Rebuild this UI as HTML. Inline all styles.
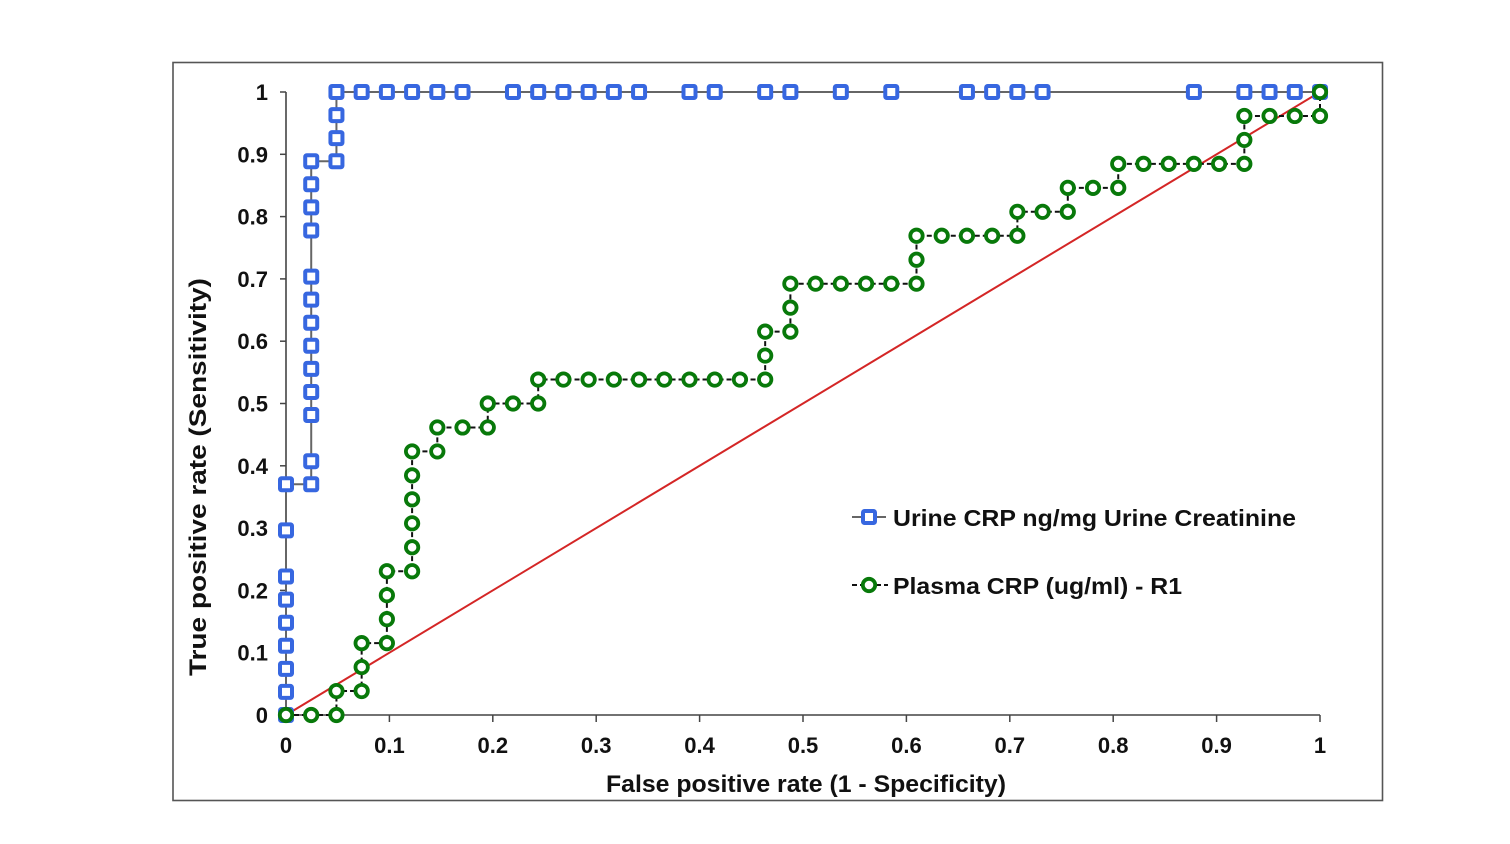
<!DOCTYPE html>
<html>
<head>
<meta charset="utf-8">
<style>
  html,body{margin:0;padding:0;background:#fff;}
  svg{display:block;}
  text{font-family:"Liberation Sans",Arial,sans-serif;font-weight:bold;fill:#111;}
</style>
</head>
<body>
<svg width="1510" height="844" viewBox="0 0 1510 844" xmlns="http://www.w3.org/2000/svg">
  <defs>
    <marker id="sq" markerUnits="userSpaceOnUse" markerWidth="24" markerHeight="24" refX="12" refY="12" overflow="visible">
      <rect x="6" y="6" width="12" height="12" rx="1.5" fill="#fff" stroke="#3767e0" stroke-width="4" stroke-dasharray="none"/>
    </marker>
    <marker id="ci" markerUnits="userSpaceOnUse" markerWidth="24" markerHeight="24" refX="12" refY="12" overflow="visible">
      <circle cx="12" cy="12" r="6.2" fill="#fff" stroke="#08790a" stroke-width="3.8" stroke-dasharray="none"/>
    </marker>
  </defs>

  <rect x="0" y="0" width="1510" height="844" fill="#fff"/>
  <!-- frame -->
  <rect x="173" y="62.5" width="1209.5" height="738" fill="none" stroke="#555" stroke-width="1.6"/>

  <!-- axes -->
  <line x1="286" y1="92" x2="286" y2="715" stroke="#444" stroke-width="1.6"/>
  <line x1="286" y1="715" x2="1320" y2="715" stroke="#444" stroke-width="1.6"/>
  <!-- y ticks -->
  <g stroke="#444" stroke-width="1.5">
    <line x1="280" y1="715" x2="286" y2="715"/>
    <line x1="280" y1="652.7" x2="286" y2="652.7"/>
    <line x1="280" y1="590.4" x2="286" y2="590.4"/>
    <line x1="280" y1="528.1" x2="286" y2="528.1"/>
    <line x1="280" y1="465.8" x2="286" y2="465.8"/>
    <line x1="280" y1="403.5" x2="286" y2="403.5"/>
    <line x1="280" y1="341.2" x2="286" y2="341.2"/>
    <line x1="280" y1="278.9" x2="286" y2="278.9"/>
    <line x1="280" y1="216.6" x2="286" y2="216.6"/>
    <line x1="280" y1="154.3" x2="286" y2="154.3"/>
    <line x1="280" y1="92" x2="286" y2="92"/>
  </g>
  <!-- x ticks -->
  <g stroke="#444" stroke-width="1.5">
    <line x1="286" y1="715" x2="286" y2="722"/>
    <line x1="389.4" y1="715" x2="389.4" y2="722"/>
    <line x1="492.8" y1="715" x2="492.8" y2="722"/>
    <line x1="596.2" y1="715" x2="596.2" y2="722"/>
    <line x1="699.6" y1="715" x2="699.6" y2="722"/>
    <line x1="803" y1="715" x2="803" y2="722"/>
    <line x1="906.4" y1="715" x2="906.4" y2="722"/>
    <line x1="1009.8" y1="715" x2="1009.8" y2="722"/>
    <line x1="1113.2" y1="715" x2="1113.2" y2="722"/>
    <line x1="1216.6" y1="715" x2="1216.6" y2="722"/>
    <line x1="1320" y1="715" x2="1320" y2="722"/>
  </g>

  <!-- y tick labels -->
  <g font-size="22" text-anchor="end">
    <text x="268" y="723">0</text>
    <text x="268" y="660.7">0.1</text>
    <text x="268" y="598.4">0.2</text>
    <text x="268" y="536.1">0.3</text>
    <text x="268" y="473.8">0.4</text>
    <text x="268" y="411.5">0.5</text>
    <text x="268" y="349.2">0.6</text>
    <text x="268" y="286.9">0.7</text>
    <text x="268" y="224.6">0.8</text>
    <text x="268" y="162.3">0.9</text>
    <text x="268" y="100">1</text>
  </g>
  <!-- x tick labels -->
  <g font-size="22" text-anchor="middle">
    <text x="286" y="753">0</text>
    <text x="389.4" y="753">0.1</text>
    <text x="492.8" y="753">0.2</text>
    <text x="596.2" y="753">0.3</text>
    <text x="699.6" y="753">0.4</text>
    <text x="803" y="753">0.5</text>
    <text x="906.4" y="753">0.6</text>
    <text x="1009.8" y="753">0.7</text>
    <text x="1113.2" y="753">0.8</text>
    <text x="1216.6" y="753">0.9</text>
    <text x="1320" y="753">1</text>
  </g>

  <!-- axis titles -->
  <text x="806" y="792" font-size="24" text-anchor="middle" textLength="400" lengthAdjust="spacingAndGlyphs">False positive rate (1 - Specificity)</text>
  <text transform="translate(206,477) rotate(-90)" font-size="24" text-anchor="middle" textLength="398" lengthAdjust="spacingAndGlyphs">True positive rate (Sensitivity)</text>

  <!-- reference diagonal -->
  <line x1="286" y1="715" x2="1320" y2="92" stroke="#d42626" stroke-width="2"/>

  <!-- Urine CRP series -->
  <polyline fill="none" stroke="#666" stroke-width="2" marker-start="url(#sq)" marker-mid="url(#sq)" marker-end="url(#sq)"
    points="286,715 286,691.93 286,668.85 286,645.78 286,622.7 286,599.63 286,576.56 286,530.41 286,484.26 311.22,484.26 311.22,461.19 311.22,415.04 311.22,391.96 311.22,368.89 311.22,345.81 311.22,322.74 311.22,299.67 311.22,276.59 311.22,230.44 311.22,207.37 311.22,184.3 311.22,161.22 336.44,161.22 336.44,138.15 336.44,115.07 336.44,92 361.66,92 386.88,92 412.1,92 437.32,92 462.54,92 512.98,92 538.2,92 563.41,92 588.63,92 613.85,92 639.07,92 689.51,92 714.73,92 765.17,92 790.39,92 840.83,92 891.27,92 966.93,92 992.15,92 1017.37,92 1042.59,92 1193.9,92 1244.34,92 1269.56,92 1294.78,92 1320,92"/>

  <!-- Plasma CRP series -->
  <polyline fill="none" stroke="#111" stroke-width="2" stroke-dasharray="5,3" marker-start="url(#ci)" marker-mid="url(#ci)" marker-end="url(#ci)"
    points="286,715 311.22,715 336.44,715 336.44,691.04 361.66,691.04 361.66,667.08 361.66,643.12 386.88,643.12 386.88,619.15 386.88,595.19 386.88,571.23 412.1,571.23 412.1,547.27 412.1,523.31 412.1,499.35 412.1,475.38 412.1,451.42 437.32,451.42 437.32,427.46 462.54,427.46 487.76,427.46 487.76,403.5 512.98,403.5 538.2,403.5 538.2,379.54 563.41,379.54 588.63,379.54 613.85,379.54 639.07,379.54 664.29,379.54 689.51,379.54 714.73,379.54 739.95,379.54 765.17,379.54 765.17,355.58 765.17,331.62 790.39,331.62 790.39,307.65 790.39,283.69 815.61,283.69 840.83,283.69 866.05,283.69 891.27,283.69 916.49,283.69 916.49,259.73 916.49,235.77 941.71,235.77 966.93,235.77 992.15,235.77 1017.37,235.77 1017.37,211.81 1042.59,211.81 1067.8,211.81 1067.8,187.85 1093.02,187.85 1118.24,187.85 1118.24,163.88 1143.46,163.88 1168.68,163.88 1193.9,163.88 1219.12,163.88 1244.34,163.88 1244.34,139.92 1244.34,115.96 1269.56,115.96 1294.78,115.96 1320,115.96 1320,92"/>

  <!-- legend -->
  <line x1="852" y1="517" x2="886" y2="517" stroke="#666" stroke-width="2"/>
  <rect x="863" y="511" width="12" height="12" rx="1.5" fill="#fff" stroke="#3767e0" stroke-width="4"/>
  <text x="893" y="526" font-size="23" textLength="403" lengthAdjust="spacingAndGlyphs">Urine CRP ng/mg Urine Creatinine</text>

  <line x1="852" y1="585" x2="888" y2="585" stroke="#111" stroke-width="2" stroke-dasharray="5,3"/>
  <circle cx="869" cy="585" r="6.2" fill="#fff" stroke="#08790a" stroke-width="3.8"/>
  <text x="893" y="594" font-size="23" textLength="289" lengthAdjust="spacingAndGlyphs">Plasma CRP (ug/ml) - R1</text>
</svg>
</body>
</html>
